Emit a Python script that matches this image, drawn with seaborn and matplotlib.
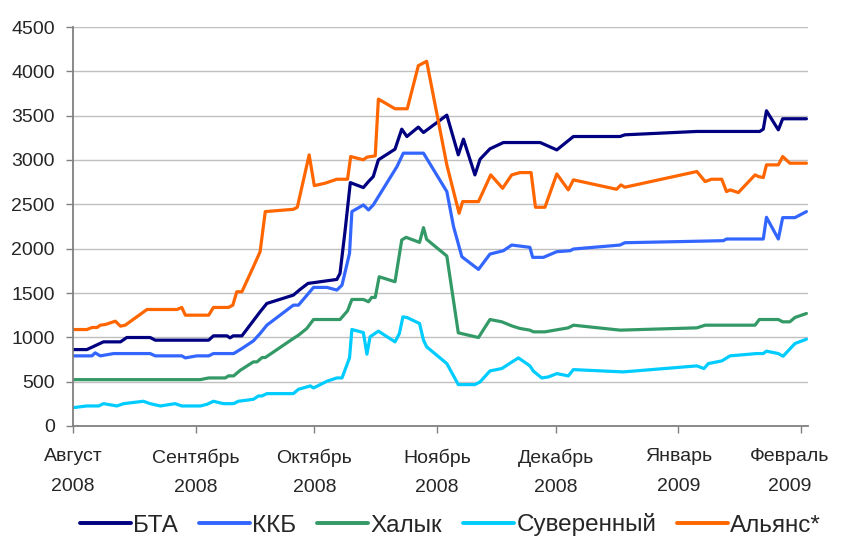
import numpy as np
import pandas as pd
import matplotlib
matplotlib.use("Agg")
import matplotlib.pyplot as plt
import matplotlib.transforms as mtransforms
import seaborn as sns

# Days since 1 August 2008 and index values for each bank
bta_days = [0, 3.5, 7.7, 12.0, 13.6, 19.5, 20.8, 34.3, 35.5, 38.9, 39.7, 40.5, 42.7, 47.3, 49.0,
            55.7, 57.4, 59.4, 66.7, 67.5, 68.8, 70.1, 73.4, 74.7, 75.9, 77.2, 81.4, 83.1, 84.4,
            87.3, 88.6, 94.5, 97.4, 98.7, 101.6, 102.9, 105.4, 108.8, 118.1, 122.3, 126.5,
            138.3, 139.5, 157.7, 173.6, 174.5, 175.3, 178.3, 179.4, 185.4]
bta_vals = [862, 862, 949, 949, 998, 998, 968, 968, 1017, 1017, 994, 1017, 1017, 1288, 1382,
            1476, 1540, 1608, 1653, 1721, 2211, 2745, 2689, 2757, 2813, 3002, 3122, 3348, 3265,
            3371, 3310, 3506, 3058, 3235, 2832, 3009, 3126, 3197, 3197, 3114, 3265,
            3265, 3284, 3322, 3322, 3348, 3555, 3340, 3465, 3465]

kkb_days = [0, 4.8, 5.6, 6.9, 10.3, 19.5, 20.8, 27.5, 28.4, 31.3, 34.3, 35.5, 40.6, 42.7, 45.6,
            47.3, 49.0, 55.7, 57.0, 60.8, 64.2, 66.7, 68.0, 69.9, 70.5, 73.4, 74.7, 75.9, 81.9,
            83.5, 88.6, 94.5, 96.2, 98.3, 102.5, 105.4, 108.8, 110.9, 115.5, 116.2, 118.9,
            122.3, 125.7, 126.5, 138.3, 139.5, 164.4, 165.2, 174.5, 175.3, 178.3, 179.4, 182.5,
            185.4]
kkb_vals = [791, 791, 825, 791, 817, 817, 791, 791, 768, 791, 791, 817, 817, 874, 960,
            1043, 1137, 1363, 1363, 1563, 1563, 1533, 1589, 1947, 2418, 2493, 2437, 2493, 2926,
            3077, 3077, 2644, 2248, 1909, 1766, 1939, 1977, 2041, 2015, 1902, 1902,
            1966, 1977, 1996, 2041, 2067, 2090, 2109, 2109, 2354, 2109, 2350, 2350,
            2418]

halyk_days = [0, 32.2, 34.3, 38.5, 39.3, 40.6, 42.3, 45.6, 46.5, 47.8, 48.6, 55.7, 57.0, 59.1,
              60.8, 67.5, 69.4, 70.5, 73.4, 74.7, 75.5, 76.4, 77.4, 81.4, 83.1, 84.2, 87.6,
              88.6, 89.4, 94.5, 97.4, 102.5, 105.4, 108.4, 111.1, 113.0, 115.5, 116.4, 119.3,
              125.2, 126.5, 138.3, 157.7, 159.8, 172.4, 173.5, 178.3, 179.4, 181.2, 182.5, 185.4]
halyk_vals = [523, 523, 542, 542, 565, 565, 629, 723, 723, 772, 772, 987, 1024, 1100,
              1201, 1201, 1299, 1427, 1427, 1401, 1450, 1450, 1683, 1627, 2098, 2128, 2071,
              2237, 2105, 1917, 1051, 998, 1201, 1175, 1126, 1100, 1081, 1062, 1062,
              1107, 1137, 1081, 1107, 1137, 1137, 1201, 1201, 1175, 1175, 1224, 1269]

suv_days = [0, 3.5, 6.5, 7.7, 11.1, 12.8, 17.8, 19.5, 22.1, 25.8, 27.5, 32.2, 33.9, 35.5, 38.0,
            40.6, 41.8, 45.6, 46.9, 47.8, 49.0, 55.7, 57.0, 60.0, 60.8, 64.2, 66.7, 68.0, 69.9,
            70.5, 73.4, 74.3, 75.1, 77.2, 81.4, 82.5, 83.4, 84.4, 87.6, 88.6, 89.4, 94.5, 97.4,
            101.6, 102.9, 105.4, 108.4, 110.6, 112.6, 115.5, 116.4, 118.5, 120.2, 122.3, 125.2,
            126.5, 139.1, 157.7, 159.5, 160.6, 164.0, 166.1, 172.8, 174.5, 175.3, 178.3, 179.5,
            182.5, 185.4]
suv_vals = [207, 226, 226, 252, 226, 252, 279, 252, 226, 252, 226, 226, 245, 279, 252,
            252, 279, 301, 339, 339, 365, 365, 414, 452, 429, 505, 542, 542, 768,
            1088, 1054, 810, 1006, 1070, 949, 1043, 1231, 1224, 1156, 968, 893, 704, 467,
            467, 497, 621, 648, 712, 768, 678, 618, 542, 554, 591, 565,
            636, 610, 678, 648, 704, 734, 791, 817, 817, 844, 817, 787,
            930, 979]

alians_days = [0, 3.5, 4.8, 6.1, 6.9, 8.2, 10.7, 12.0, 13.2, 18.7, 26.3, 27.5, 28.4, 34.3, 35.5,
               39.3, 40.4, 41.4, 42.7, 45.6, 47.3, 48.6, 55.7, 56.7, 59.7, 61.0, 63.7, 66.7,
               69.4, 70.2, 73.4, 74.3, 76.4, 77.2, 81.4, 84.5, 87.3, 89.4, 94.5, 97.6, 98.5,
               102.5, 105.6, 108.6, 110.9, 113.0, 115.8, 116.9, 119.3, 122.3, 125.2, 126.5,
               137.4, 138.5, 139.5, 157.7, 159.8, 161.4, 164.0, 165.2, 166.1, 168.2, 172.4,
               173.3, 174.5, 175.3, 178.3, 179.4, 181.2, 185.4]
alians_vals = [1088, 1088, 1111, 1111, 1137, 1145, 1182, 1126, 1137, 1314, 1314, 1337, 1250,
               1250, 1337, 1337, 1363, 1514, 1514, 1796, 1966, 2418, 2444, 2467, 3058, 2711,
               2738, 2783, 2783, 3039, 3002, 3032, 3047, 3687, 3578, 3578, 4064, 4113, 2945,
               2399, 2531, 2531, 2832, 2681, 2832, 2858, 2858, 2467, 2467, 2843, 2663, 2776,
               2670, 2719, 2693, 2870, 2757, 2783, 2783, 2644, 2663, 2633, 2832,
               2813, 2802, 2945, 2945, 3039, 2964, 2964]

series_names = ["БТА", "ККБ", "Халык", "Суверенный", "Альянс*"]
series_colors = ["#000080", "#3366FF", "#339966", "#00CCFF", "#FF6600"]
series_days = [bta_days, kkb_days, halyk_days, suv_days, alians_days]
series_vals = [bta_vals, kkb_vals, halyk_vals, suv_vals, alians_vals]

month_labels = ["Август\n2008", "Сентябрь\n2008", "Октябрь\n2008", "Ноябрь\n2008",
                "Декабрь\n2008", "Январь\n2009", "Февраль\n2009"]

start = pd.Timestamp("2008-08-01")
frames = []
for name, days, vals in zip(series_names, series_days, series_vals):
    frames.append(pd.DataFrame({
        "bank": name,
        "date": start + pd.to_timedelta(np.array(days), unit="D"),
        "value": vals,
    }))
df = pd.concat(frames, ignore_index=True)

sns.set_theme(style="white")
plt.rcParams["font.family"] = ["Liberation Sans", "DejaVu Sans"]

fig = plt.figure(figsize=(8.5, 5.37), dpi=100)
ax = fig.add_axes([73 / 850, 111 / 537, 735 / 850, 399 / 537])

for name, color in zip(series_names, series_colors):
    sns.lineplot(data=df[df["bank"] == name], x="date", y="value", color=color,
                 linewidth=2.3, label=name, estimator=None, sort=False, ax=ax, legend=False)

ax.set_ylim(0, 4500)
ax.set_yticks(np.arange(0, 4501, 500))
ax.set_xlim(start, start + pd.Timedelta(days=185.8))
ticks = pd.date_range("2008-08-01", "2009-02-01", freq="MS")
ax.set_xticks(ticks)
ax.set_xticklabels(month_labels, linespacing=1.95)
ax.set_xlabel("")
ax.set_ylabel("")

ax.yaxis.grid(True, color="#C0C0C0", linewidth=1.0)
ax.xaxis.grid(False)
ax.set_axisbelow(True)
for side in ["top", "right"]:
    ax.spines[side].set_visible(False)
for side in ["left", "bottom"]:
    ax.spines[side].set_color("#808080")
    ax.spines[side].set_linewidth(1.3)

ax.tick_params(axis="y", direction="out", length=5, width=1, color="#808080",
               labelsize=14, pad=8, left=True)
ax.tick_params(axis="x", direction="out", length=5, width=1, color="#808080",
               labelsize=14, pad=11, bottom=True)

# keep the last month label inside the figure
last = ax.get_xticklabels()[-1]
last.set_transform(last.get_transform() + mtransforms.ScaledTranslation(-11 / 100, 0, fig.dpi_scale_trans))

handles = [plt.Line2D([], [], color=c, linewidth=2.8) for c in series_colors]
fig.legend(handles, series_names, loc="center", bbox_to_anchor=(0.53, 12 / 537), ncol=5,
           frameon=False, fontsize=17.5, handlelength=2.1, handletextpad=0.1,
           columnspacing=0.85, borderaxespad=0, borderpad=0)

fig.savefig("out.png", dpi=100, facecolor="white")
